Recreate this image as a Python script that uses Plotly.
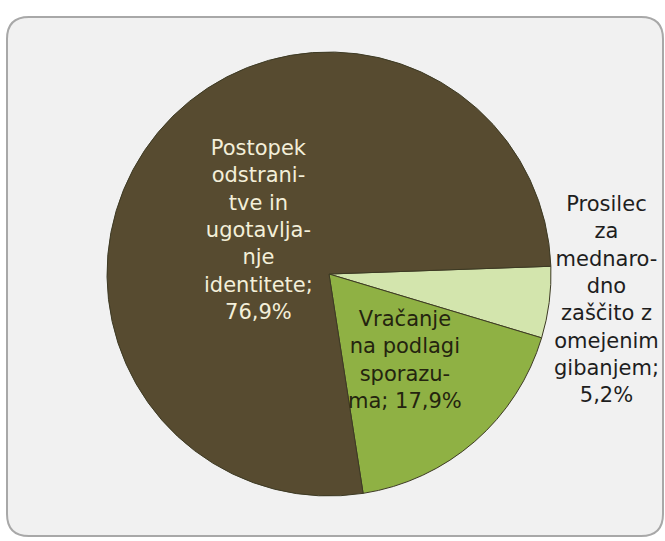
import plotly.graph_objects as go

W, H = 665, 541

# slices, clockwise from the top-right
labels = ['Prosilec za mednarodno zaščito z omejenim gibanjem',
          'Vračanje na podlagi sporazuma',
          'Postopek odstranitve in ugotavljanje identitete']
label_lines = ['Prosilec<br>za<br>mednaro-<br>dno<br>zaščito z<br>omejenim<br>gibanjem',
               'Vračanje<br>na podlagi<br>sporazu-<br>ma',
               'Postopek<br>odstrani-<br>tve in<br>ugotavlja-<br>nje<br>identitete']
values = [5.2, 17.9, 76.9]
colors = ['#d3e5ad', '#8fb144', '#574b30']

label_sep = ['<br>', ' ', '<br>']
label_pos = [(606, 299), (405, 360), (258, 230)]   # px, centre of each text block
label_color = ['#1e1e1e', '#24240f', '#f3efd9']


def px(x, y):
    return x / W, 1 - y / H


cx, cy, r = 329, 274, 222
fig = go.Figure(go.Pie(
    labels=labels, values=values, sort=False, direction='clockwise', rotation=88,
    marker=dict(colors=colors, line=dict(color='#3d3a24', width=1)),
    textinfo='none', hoverinfo='label+percent', showlegend=False,
    domain=dict(x=[(cx - r) / W, (cx + r) / W], y=[1 - (cy + r) / H, 1 - (cy - r) / H]),
))

for lab, val, sep, pos, col in zip(label_lines, values, label_sep, label_pos, label_color):
    x, y = px(*pos)
    fig.add_annotation(
        x=x, y=y, xref='paper', yref='paper', showarrow=False,
        text=f"{lab};{sep}{str(val).replace('.', ',')}%",
        font=dict(family='DejaVu Sans', size=21, color=col),
        align='center', xanchor='center', yanchor='middle'
    )

# rounded frame
x0, y0, x1, y1, rad = 7, 17, 663, 536, 22
fx0, fy0 = px(x0, y0)
fx1, fy1 = px(x1, y1)
rx, ry = rad / W, rad / H
path = (f"M {fx0 + rx},{fy0} L {fx1 - rx},{fy0} Q {fx1},{fy0} {fx1},{fy0 - ry} "
        f"L {fx1},{fy1 + ry} Q {fx1},{fy1} {fx1 - rx},{fy1} "
        f"L {fx0 + rx},{fy1} Q {fx0},{fy1} {fx0},{fy1 + ry} "
        f"L {fx0},{fy0 - ry} Q {fx0},{fy0} {fx0 + rx},{fy0} Z")
fig.add_shape(type='path', path=path, xref='paper', yref='paper',
              fillcolor='#f1f1f1', line=dict(color='#a8a8a8', width=2), layer='below')

fig.update_layout(
    width=W, height=H,
    margin=dict(l=0, r=0, t=0, b=0),
    paper_bgcolor='white',
    plot_bgcolor='white'
)
# page body has an 8px margin by default, drop it so the figure fills the window
fig.write_html("out.html", config={'displayModeBar': False},
               post_script="document.body.style.margin='0';")
